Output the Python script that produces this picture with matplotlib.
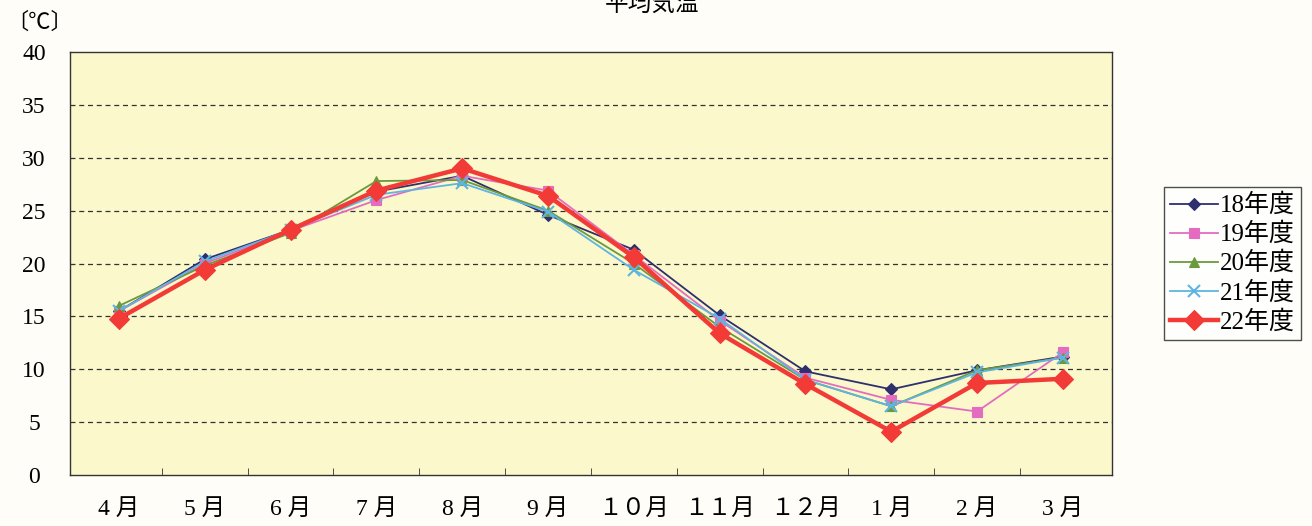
import matplotlib.pyplot as plt
import numpy as np

plt.rcParams["font.family"] = ["Liberation Serif", "Noto Sans CJK JP", "DejaVu Sans"]

months = ["4 月", "5 月", "6 月", "7 月", "8 月", "9 月",
          "１０月", "１１月", "１２月", "1 月", "2 月", "3 月"]
series_names = ["18年度", "19年度", "20年度", "21年度", "22年度"]
temp_18 = [15.5, 20.4, 23.2, 26.8, 28.3, 24.6, 21.3, 15.1, 9.8, 8.1, 9.9, 11.2]
temp_19 = [15.5, 20.0, 23.1, 26.0, 28.3, 26.9, 20.8, 14.6, 9.2, 7.1, 6.0, 11.6]
temp_20 = [16.0, 19.8, 22.9, 27.8, 27.9, 25.0, 20.0, 14.0, 9.0, 6.5, 9.9, 11.1]
temp_21 = [15.5, 20.2, 23.2, 26.5, 27.6, 24.9, 19.4, 14.8, 9.0, 6.5, 9.7, 11.1]
temp_22 = [14.8, 19.4, 23.2, 26.9, 29.0, 26.4, 20.6, 13.4, 8.6, 4.1, 8.7, 9.1]

styles = [
    dict(color="#2e2f6e", marker="D", ms=6, lw=1.3),
    dict(color="#e46cc0", marker="s", ms=7, lw=1.3),
    dict(color="#6b9a3c", marker="^", ms=7, lw=1.3),
    dict(color="#5fb4e2", marker="x", ms=8, lw=1.3, mew=1.5),
    dict(color="#f23a36", marker="D", ms=10, lw=3.2),
]

fig = plt.figure(figsize=(13.12, 5.26), dpi=100, facecolor="#fefdf7")
ax = fig.add_axes([0.0534, 0.097, 0.794, 0.804])
ax.set_facecolor("#fbf8cc")

x = np.arange(len(months))
for name, vals, st in zip(series_names,
                          [temp_18, temp_19, temp_20, temp_21, temp_22], styles):
    ax.plot(x, vals, label=name, color=st["color"], marker=st["marker"],
            markersize=st["ms"], linewidth=st["lw"],
            markeredgewidth=st.get("mew", 0.8), zorder=3)

ax.set_xlim(-0.57, len(months) - 0.43)
ax.set_ylim(0, 40)
ax.set_yticks(np.arange(0, 41, 5))
ax.set_xticks(x)
ax.set_xticklabels(months, fontsize=17)
ax.set_xticks(np.arange(0.5, len(months) - 0.5, 1), minor=True)
ax.tick_params(axis="x", which="major", length=0, pad=17)
ax.tick_params(axis="x", which="minor", direction="in", length=5, color="#333333")
ax.tick_params(axis="y", length=0, pad=26, labelsize=17)
for lab in ax.get_yticklabels():
    lab.set_horizontalalignment("center")
for yv in range(5, 40, 5):
    ax.axhline(yv, color="#333333", lw=0.9, ls=(0, (4, 3)), zorder=1)
for sp in ax.spines.values():
    sp.set_color("#333333")
    sp.set_linewidth(1.0)

leg = ax.legend(loc="center left", bbox_to_anchor=(1.05, 0.5), fontsize=18,
                frameon=True, fancybox=False, edgecolor="#222222",
                handlelength=1.9, handletextpad=0.1, borderpad=0.25,
                labelspacing=0.22, borderaxespad=0)
leg.get_frame().set_facecolor("#ffffff")
leg.get_frame().set_linewidth(1.0)

fig.text(0.005, 0.955, "〔℃〕", fontsize=16, ha="left", va="center")
fig.text(0.497, 0.992, "平均気温", fontsize=17, ha="center", va="center")

fig.savefig("out.png", dpi=100, facecolor=fig.get_facecolor())
